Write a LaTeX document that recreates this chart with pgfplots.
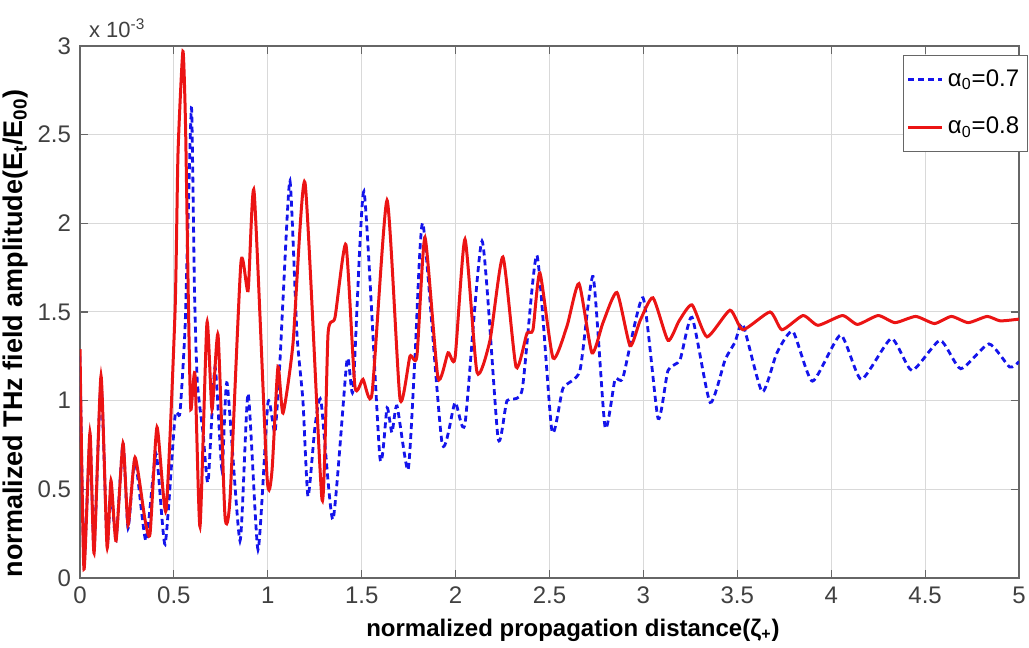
\documentclass[border=0pt]{standalone}
\usepackage{fontspec}
\setmainfont{Liberation Sans}
\usepackage{pgfplots}
\usepackage{pgfplotstable}
\pgfplotsset{compat=1.18}
\definecolor{mred}{RGB}{235,20,20}
\definecolor{mblue}{RGB}{20,20,235}
\pgfplotstableread{
x y
0 1.29
0.021 0.05
0.053 0.82
0.075 0.14
0.112 1.14
0.144 0.175
0.165 0.55
0.192 0.21
0.229 0.76
0.256 0.30
0.293 0.68
0.346 0.33
0.373 0.25
0.410 0.85
0.458 0.38
0.506 1.5
0.522 2.4
0.548 2.97
0.562 2.55
0.578 1.5
0.590 0.95
0.612 1.15
0.639 0.29
0.676 1.44
0.703 0.95
0.735 1.37
0.772 0.35
0.799 0.45
0.857 1.78
0.895 1.62
0.927 2.18
0.996 0.57
1.022 0.60
1.054 1.19
1.081 0.93
1.134 1.32
1.198 2.23
1.289 0.44
1.321 1.38
1.358 1.47
1.416 1.88
1.464 1.08
1.507 1.12
1.555 1.04
1.635 2.13
1.704 1.01
1.757 1.25
1.794 1.25
1.837 1.92
1.906 1.13
1.960 1.27
1.997 1.24
2.050 1.91
2.114 1.16
2.183 1.34
2.252 1.81
2.322 1.19
2.380 1.38
2.412 1.40
2.449 1.72
2.519 1.24
2.593 1.42
2.657 1.66
2.726 1.27
2.785 1.44
2.859 1.61
2.929 1.31
2.982 1.45
3.051 1.58
3.131 1.34
3.19 1.45
3.259 1.54
3.339 1.36
3.461 1.51
3.530 1.40
3.674 1.50
3.738 1.40
3.850 1.48
3.93 1.425
4.06 1.48
4.14 1.43
4.25 1.48
4.34 1.44
4.45 1.475
4.55 1.435
4.64 1.475
4.73 1.44
4.83 1.475
4.90 1.45
5.0 1.46
}\redtable
\pgfplotstableread{
x y
0 1.25
0.021 0.10
0.053 0.78
0.075 0.17
0.112 1.10
0.144 0.20
0.165 0.50
0.192 0.22
0.229 0.76
0.256 0.28
0.293 0.67
0.351 0.21
0.405 0.70
0.453 0.19
0.506 0.91
0.532 0.93
0.559 1.40
0.575 2.00
0.594 2.65
0.610 1.60
0.625 1.10
0.655 0.82
0.682 0.54
0.719 1.19
0.756 0.61
0.783 1.10
0.852 0.21
0.895 1.04
0.948 0.16
1.001 0.99
1.038 0.82
1.065 1.23
1.081 1.57
1.118 2.24
1.155 1.38
1.187 1.00
1.214 0.46
1.251 0.85
1.283 1.00
1.347 0.33
1.422 1.23
1.454 1.06
1.512 2.18
1.597 0.68
1.635 0.96
1.661 0.82
1.688 0.97
1.747 0.61
1.784 1.25
1.826 2.00
1.928 0.76
1.997 0.99
2.050 0.87
2.141 1.90
2.226 0.79
2.274 1.00
2.354 1.06
2.433 1.82
2.513 0.83
2.572 1.07
2.662 1.17
2.732 1.70
2.796 0.85
2.849 1.12
2.891 1.13
2.998 1.58
3.078 0.90
3.131 1.17
3.195 1.23
3.259 1.47
3.355 0.99
3.435 1.23
3.488 1.33
3.530 1.43
3.632 1.05
3.711 1.27
3.796 1.39
3.90 1.11
4.05 1.37
4.16 1.12
4.32 1.35
4.43 1.17
4.58 1.34
4.69 1.18
4.84 1.32
4.95 1.19
5.0 1.22
}\bluetable
\begin{document}
\begin{tikzpicture}
\useasboundingbox (-40pt,-35pt) rectangle (474.5pt,289pt);
\begin{axis}[
  scale only axis, width=469.5pt, height=266pt,
  at={(0,0)}, anchor=south west,
  xmin=0, xmax=5, ymin=0, ymax=3,
  xtick={0,0.5,...,5}, ytick={0,0.5,...,3},
  grid=major, major grid style={gray!30, line width=0.5pt},
  axis line style={black!60, line width=0.8pt},
  tick style={black!60, line width=0.6pt},
  major tick length=4pt,
  tick label style={font=\fontsize{12}{14}\selectfont, text=black!75},
  /pgf/number format/assume math mode=true,
  xticklabel style={yshift=-1pt},
  yticklabel style={xshift=-1pt},
  xlabel={\fontsize{12}{14}\selectfont\bfseries normalized propagation distance(ζ\textsubscript{+})},
  xlabel style={at={(axis description cs:0.525,-0.098)}, anchor=center},
  ylabel={\fontsize{13.5}{16}\selectfont\bfseries normalized THz field amplitude(E\textsubscript{t}/E\textsubscript{00})},
  ylabel style={at={(axis description cs:-0.069,0.46)}, anchor=center},
  legend style={at={(axis description cs:0.876,0.983)}, anchor=north west,
    draw=black!60, font=\fontsize{12}{14}\selectfont, inner xsep=2pt, inner ysep=5pt,
    row sep=10pt, cells={anchor=west}},
  legend image code/.code={\draw[#1] (0pt,0pt) -- (17pt,0pt);},
  clip=true,
]
\addplot[mblue, line width=1.4pt, dash pattern=on 3pt off 2pt, smooth, tension=0.35] table {\bluetable};
\addlegendentry{α\textsubscript{0}=0.7}
\addplot[mred, line width=1.5pt, smooth, tension=0.35] table {\redtable};
\addlegendentry{α\textsubscript{0}=0.8}
\end{axis}
\node[anchor=west, font=\fontsize{11}{13}\selectfont, text=black!75] at (1pt,275pt) {x 10\textsuperscript{-3}};
\end{tikzpicture}
\end{document}
